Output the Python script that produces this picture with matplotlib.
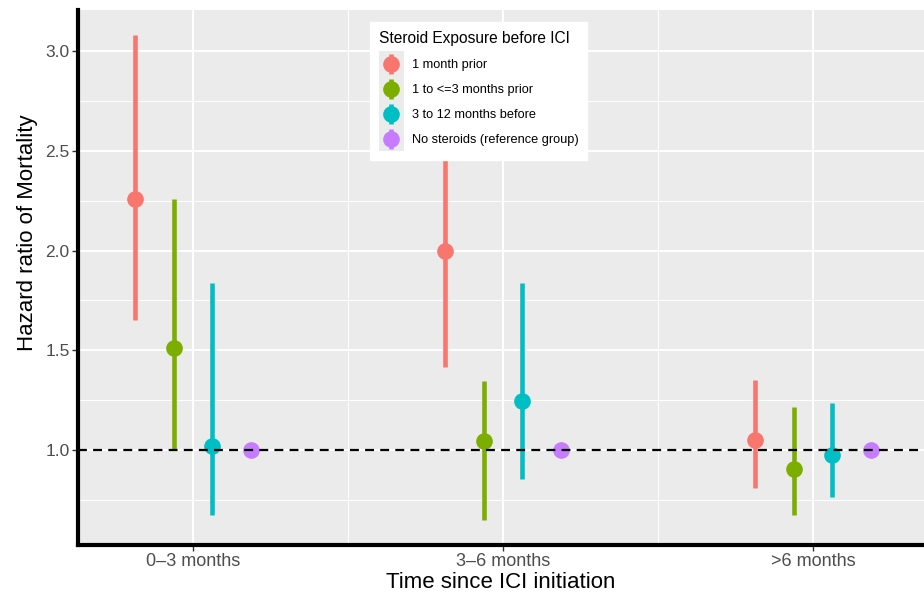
import numpy as np
import matplotlib
matplotlib.use("Agg")
import matplotlib.pyplot as plt
from matplotlib.legend_handler import HandlerErrorbar
from matplotlib.patches import Rectangle
from matplotlib.ticker import FixedLocator

plt.rcParams['font.family'] = ['Liberation Sans', 'DejaVu Sans']

# ---- data ----
categories = ["0\u20133 months", "3\u20136 months", ">6 months"]
series = ["1 month prior", "1 to <=3 months prior", "3 to 12 months before",
          "No steroids (reference group)"]
colors = ["#F8766D", "#7CAE00", "#00BFC4", "#C77CFF"]

hr_1m = [2.26, 2.00, 1.05]
lo_1m = [1.65, 1.415, 0.81]
hi_1m = [3.08, 2.83, 1.35]

hr_1to3 = [1.51, 1.045, 0.905]
lo_1to3 = [1.00, 0.65, 0.675]
hi_1to3 = [2.26, 1.345, 1.215]

hr_3to12 = [1.02, 1.245, 0.975]
lo_3to12 = [0.675, 0.855, 0.765]
hi_3to12 = [1.835, 1.835, 1.235]

hr_none = [1.0, 1.0, 1.0]
lo_none = [1.0, 1.0, 1.0]
hi_none = [1.0, 1.0, 1.0]

estimates = [hr_1m, hr_1to3, hr_3to12, hr_none]
lowers = [lo_1m, lo_1to3, lo_3to12, lo_none]
uppers = [hi_1m, hi_1to3, hi_3to12, hi_none]

yticks = [1.0, 1.5, 2.0, 2.5, 3.0]
ytick_labels = ["1.0", "1.5", "2.0", "2.5", "3.0"]

# ---- figure ----
W, H = 924, 595
fig = plt.figure(figsize=(W / 100, H / 100), dpi=100)
ax = fig.add_axes([78 / W, 1 - 545 / H, (924 - 78) / W, (545 - 10) / H])
ax.set_facecolor("#EBEBEB")

x = np.arange(1, len(categories) + 1)
dodge = 0.5
n = len(series)
offsets = (np.arange(n) - (n - 1) / 2) * dodge / n

handles = []
for i in range(n):
    est = np.array(estimates[i])
    lo = np.array(lowers[i])
    hi = np.array(uppers[i])
    yerr = np.vstack([est - lo, hi - est])
    h = ax.errorbar(x + offsets[i], est, yerr=yerr, fmt='o', color=colors[i],
                    ecolor=colors[i], elinewidth=3.3, markersize=12, capsize=0,
                    markeredgewidth=0, zorder=3, label=series[i])
    handles.append(h)

ax.axhline(1.0, color="black", lw=1.6, ls=(0, (4, 2.8)), zorder=4)

ax.set_xlim(1 - 115 / 310, 3 + 111 / 310)
ax.set_ylim(1.0 - 95 / 200, 3.0 + 41 / 200)

ax.set_xticks(x)
ax.set_xticklabels(categories)
ax.xaxis.set_minor_locator(FixedLocator([1.5, 2.5, 3.5]))
ax.yaxis.set_major_locator(FixedLocator(yticks))
ax.yaxis.set_minor_locator(FixedLocator([0.75, 1.25, 1.75, 2.25, 2.75, 3.25]))
ax.set_yticklabels(ytick_labels)

ax.grid(which="major", color="white", lw=1.4)
ax.grid(which="minor", color="white", lw=0.7)
ax.set_axisbelow(True)

for s in ["top", "right"]:
    ax.spines[s].set_visible(False)
for s in ["left", "bottom"]:
    ax.spines[s].set_linewidth(3.0)
    ax.spines[s].set_color("black")

ax.tick_params(which="major", length=4, width=1, color="#333333",
               labelcolor="#4D4D4D", labelsize=13)
ax.tick_params(axis="y", labelsize=12.5, pad=2)
ax.tick_params(axis="x", pad=2)
ax.tick_params(which="minor", length=0)

ax.set_xlabel("Time since ICI initiation", fontsize=16, labelpad=1)
ax.set_ylabel("Hazard ratio of Mortality", fontsize=16, va="center")
ax.yaxis.set_label_coords((28 - 78) / (924 - 78), (545 - 233) / (545 - 10))


class KeyHandler(HandlerErrorbar):
    def create_artists(self, legend, orig_handle, xdescent, ydescent,
                       width, height, fontsize, trans):
        bg = Rectangle((-xdescent, -ydescent), width, height,
                       facecolor="#EBEBEB", edgecolor="none", transform=trans)
        arts = super().create_artists(legend, orig_handle, xdescent,
                                      2 * ydescent, width, height,
                                      fontsize, trans)
        return [bg] + list(arts)


leg = ax.legend(handles=handles, labels=series,
                title="Steroid Exposure before ICI",
                loc="upper left", bbox_to_anchor=(370 / W, 1 - 22 / H),
                bbox_transform=fig.transFigure, borderaxespad=0,
                fontsize=9.2, title_fontsize=11.2, numpoints=1,
                handler_map={type(handles[0]): KeyHandler(yerr_size=0.8)},
                handlelength=1.95, handleheight=2.63, labelspacing=0,
                handletextpad=0.6, borderpad=0.7, frameon=True, fancybox=False,
                alignment="left")
leg._legend_box.sep = 4.0
leg.get_frame().set_facecolor("white")
leg.get_frame().set_edgecolor("white")
leg.get_frame().set_alpha(1)
leg.set_zorder(10)

fig.savefig("out.png", dpi=100, facecolor="white")
